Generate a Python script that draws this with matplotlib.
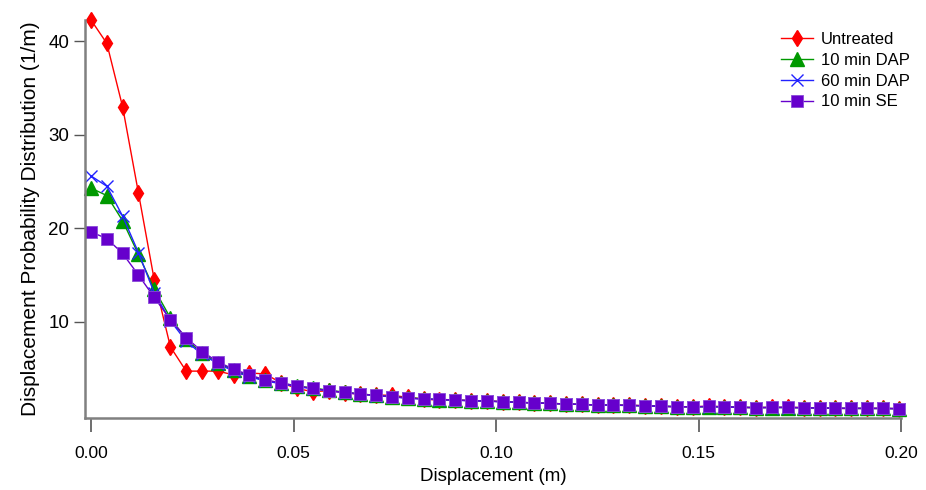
import matplotlib.pyplot as plt

# displacement bins (m)
displacement = [0.0, 0.0039, 0.0078, 0.0117, 0.0156, 0.0196, 0.0235, 0.0274, 0.0313, 0.0352,
                0.0391, 0.0430, 0.0469, 0.0508, 0.0547, 0.0587, 0.0626, 0.0665, 0.0704, 0.0743,
                0.0782, 0.0821, 0.0860, 0.0899, 0.0938, 0.0978, 0.1017, 0.1056, 0.1095, 0.1134,
                0.1173, 0.1212, 0.1251, 0.1290, 0.1329, 0.1369, 0.1408, 0.1447, 0.1486, 0.1525,
                0.1564, 0.1603, 0.1642, 0.1681, 0.1720, 0.1760, 0.1799, 0.1838, 0.1877, 0.1916,
                0.1955, 0.1994]

untreated = [42.3, 39.8, 33.0, 23.8, 14.5, 7.3, 4.7, 4.7, 4.7, 4.3,
             4.5, 4.4, 3.45, 2.85, 2.5, 2.6, 2.4, 2.2, 2.15, 2.1,
             1.9, 1.7, 1.6, 1.6, 1.54, 1.5, 1.43, 1.36, 1.29, 1.25,
             1.18, 1.14, 1.07, 1.07, 1.04, 1.0, 0.93, 0.89, 0.89, 0.93,
             0.89, 0.82, 0.79, 0.82, 0.82, 0.79, 0.75, 0.71, 0.71, 0.71,
             0.71, 0.68]

dap_10 = [24.3, 23.5, 20.8, 17.2, 13.5, 10.4, 8.1, 6.6, 5.6, 4.8,
          4.2, 3.7, 3.4, 3.1, 2.9, 2.65, 2.45, 2.25, 2.1, 1.95,
          1.85, 1.75, 1.65, 1.6, 1.55, 1.5, 1.42, 1.36, 1.3, 1.25,
          1.18, 1.13, 1.08, 1.05, 1.02, 0.98, 0.94, 0.9, 0.88, 0.88,
          0.86, 0.82, 0.8, 0.8, 0.8, 0.78, 0.75, 0.72, 0.7, 0.7,
          0.7, 0.68]

dap_60 = [25.6, 24.5, 21.3, 17.4, 13.1, 10.1, 7.9, 6.5, 5.5, 4.7,
          4.1, 3.65, 3.35, 3.05, 2.8, 2.58, 2.4, 2.22, 2.08, 1.94,
          1.8, 1.7, 1.65, 1.58, 1.52, 1.48, 1.41, 1.35, 1.28, 1.24,
          1.17, 1.13, 1.07, 1.05, 1.02, 0.98, 0.93, 0.89, 0.88, 0.9,
          0.87, 0.82, 0.79, 0.8, 0.8, 0.78, 0.75, 0.72, 0.71, 0.7,
          0.7, 0.68]

se_10 = [19.6, 18.9, 17.3, 15.0, 12.6, 10.2, 8.3, 6.8, 5.7, 4.9,
         4.3, 3.75, 3.46, 3.11, 2.86, 2.61, 2.43, 2.25, 2.11, 1.96,
         1.82, 1.71, 1.68, 1.61, 1.54, 1.50, 1.43, 1.36, 1.29, 1.25,
         1.18, 1.14, 1.07, 1.07, 1.04, 1.00, 0.93, 0.89, 0.89, 0.93,
         0.89, 0.82, 0.79, 0.82, 0.82, 0.79, 0.75, 0.71, 0.71, 0.71,
         0.71, 0.68]

xticks = [0.0, 0.05, 0.10, 0.15, 0.20]
yticks = [10, 20, 30, 40]

plt.rcParams['font.family'] = ['Liberation Sans', 'DejaVu Sans']

fig = plt.figure(figsize=(9.26, 4.9), dpi=100)
ax = fig.add_axes([84.7 / 926, 1 - 418 / 490, (901 - 84.7) / 926, (418 - 20) / 490])

ax.plot(displacement, untreated, '-d', color='#ff0000', lw=1, ms=8.5, label='Untreated',
        clip_on=False)
ax.plot(displacement, dap_10, '-^', color='#009900', lw=1, ms=9.5, label='10 min DAP',
        clip_on=False)
ax.plot(displacement, dap_60, '-x', color='#2222ff', lw=1, ms=9, mew=1, label='60 min DAP',
        clip_on=False)
ax.plot(displacement, se_10, '-s', color='#6600cc', lw=1, ms=8, mec='#8a4ad8', mew=0.6,
        label='10 min SE', clip_on=False)

ax.set_xlim(-0.00156, 0.20)
ax.set_ylim(-0.32, 42.3)
ax.set_xticks(xticks)
ax.set_xticklabels(['%.2f' % t for t in xticks], fontsize=12.5)
ax.set_yticks(yticks)
ax.tick_params(axis='y', labelsize=13.5, length=8, width=1, color='#555555', pad=3)
ax.tick_params(axis='x', length=10, width=1.2, color='#555555', pad=10)

for side in ['top', 'right']:
    ax.spines[side].set_visible(False)
for side in ['left', 'bottom']:
    ax.spines[side].set_color('#808080')
    ax.spines[side].set_linewidth(1.8)

ax.set_xlabel('Displacement (m)', fontsize=13.5, labelpad=5)
ax.set_ylabel('Displacement Probability Distribution (1/m)', fontsize=15, labelpad=6)

ax.legend(loc='upper left', bbox_to_anchor=(781 / 926, 1 - 32 / 490),
          bbox_transform=fig.transFigure, frameon=False, fontsize=12,
          borderaxespad=0, borderpad=0, handlelength=1.9, handletextpad=0.5,
          labelspacing=0.35)

fig.savefig('out.png', dpi=100)
